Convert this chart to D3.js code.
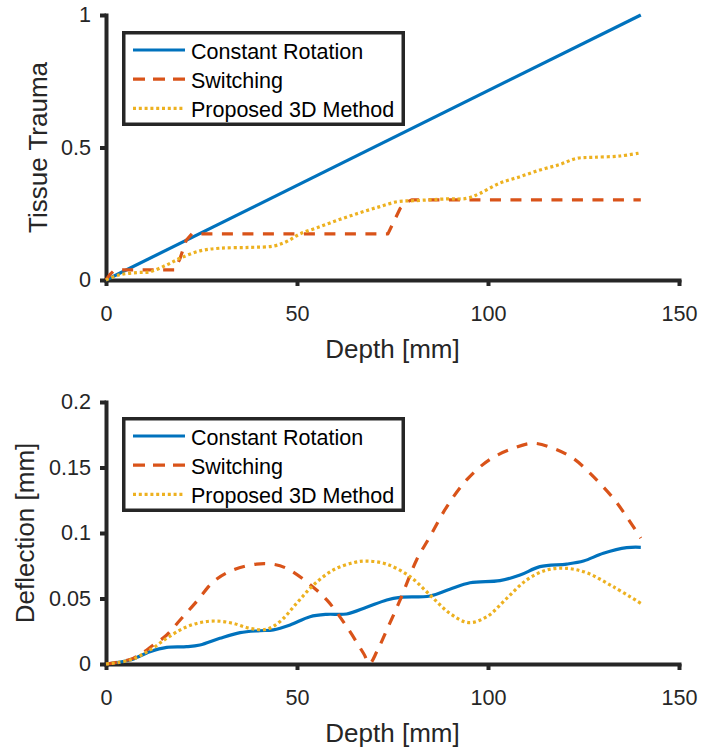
<!DOCTYPE html>
<html>
<head>
<meta charset="utf-8">
<script src="https://cdn.jsdelivr.net/npm/d3@7"></script>
<style>
  html, body { margin: 0; padding: 0; background: #fff; }
  svg { display: block; font-family: "Liberation Sans", Arial, Helvetica, sans-serif; }
</style>
</head>
<body>
<svg id="chart" width="702" height="753"></svg>
<script>
// ---- data ----------------------------------------------------------------
const seriesNames = ["Constant Rotation", "Switching", "Proposed 3D Method"];

const depthTicks = [0, 50, 100, 150];
const traumaTicks = [0, 0.5, 1];
const traumaTickLabels = ["0", "0.5", "1"];
const deflectionTicks = [0, 0.05, 0.1, 0.15, 0.2];
const deflectionTickLabels = ["0", "0.05", "0.1", "0.15", "0.2"];

// Tissue trauma vs depth
const traumaConstDepth = [0, 140];
const traumaConst = [0, 1];

const traumaSwitchDepth = [0, 1, 2, 3, 18, 19.4, 21, 22.5, 73.8, 75, 77, 79, 80, 140];
const traumaSwitch = [0, 0.02, 0.034, 0.038, 0.038, 0.082, 0.15, 0.174, 0.174, 0.21, 0.27, 0.296, 0.302, 0.302];

const traumaPropDepth = [0, 3.7, 8, 11.5, 15.9, 19.4, 24.6, 29.8, 37.7, 43.8, 47.3, 50.8, 56, 61.3,
  66.5, 71.7, 76.4, 80.4, 89.2, 94.4, 97.9, 103, 108.4, 113.6, 118.8, 123.2, 127.6, 134.6, 140];
const traumaProp = [0, 0.02, 0.028, 0.031, 0.057, 0.082, 0.11, 0.12, 0.123, 0.128, 0.145, 0.174, 0.201, 0.229,
  0.254, 0.277, 0.296, 0.299, 0.306, 0.308, 0.327, 0.365, 0.39, 0.415, 0.436, 0.459, 0.463, 0.468, 0.48];

// Deflection vs depth
const deflConstDepth = [0, 6.3, 11.5, 15.9, 21.1, 24.6, 29.8, 35.1, 40.3, 43.8, 48.2, 53.4, 57.8, 63,
  68.2, 73.5, 77, 84.8, 90, 95.3, 103.1, 108.4, 113.6, 120.6, 125, 130.2, 136.3, 140];
const deflConst = [0, 0.003, 0.0094, 0.0127, 0.0132, 0.0145, 0.0196, 0.0239, 0.0254, 0.026, 0.0298, 0.0361, 0.0379, 0.0382,
  0.0433, 0.0489, 0.0509, 0.0519, 0.057, 0.062, 0.0636, 0.0679, 0.0743, 0.0763, 0.0786, 0.0845, 0.0888, 0.0891];

const deflSwitchDepth = [0, 7.1, 12.4, 15.9, 19.4, 23.7, 28.1, 33.3, 39.4, 43.8, 47.3, 52.5, 57.8, 63,
  67.4, 69, 70.9, 73.5, 77, 81.3, 84.8, 89.2, 94.4, 100.5, 106.6, 111.9, 117.1, 122.3, 127.6, 132.8, 136.3, 140];
const deflSwitch = [0, 0.0043, 0.0145, 0.0221, 0.0336, 0.0476, 0.0628, 0.0718, 0.0763, 0.0761, 0.073, 0.0628, 0.0489, 0.0285,
  0.0082, 0.0005, 0.0094, 0.026, 0.0489, 0.0794, 0.0972, 0.12, 0.1405, 0.1562, 0.1646, 0.1685, 0.1646, 0.157, 0.143, 0.1265, 0.1124, 0.096];

const deflPropDepth = [0, 6.3, 11.5, 15.9, 20.2, 24.6, 29, 33.3, 37.7, 42, 45.5, 49.9, 54.3, 59.5, 64.7,
  68.2, 73.5, 79.6, 84.8, 90, 94.9, 99.7, 104.9, 110.1, 115.4, 120.6, 125.8, 132.8, 140];
const deflProp = [0, 0.003, 0.0107, 0.0196, 0.0272, 0.0316, 0.0328, 0.031, 0.0272, 0.0265, 0.0323, 0.0463, 0.0603, 0.0718, 0.0773,
  0.0786, 0.0762, 0.0667, 0.0527, 0.0387, 0.0316, 0.0361, 0.0501, 0.0641, 0.0718, 0.073, 0.0697, 0.059, 0.0463];

// ---- styles --------------------------------------------------------------
const colors = ["#0072BD", "#D95319", "#EDB120"];
const dashes = [null, "11,9.5", "3,2.8"];
const axisColor = "#262626";
const lineWidth = 3.2;

const svg = d3.select("#chart");
svg.append("rect").attr("width", 702).attr("height", 753).attr("fill", "#fff");

function drawPanel(cfg) {
  const W = 573;
  const g = svg.append("g").attr("transform", `translate(${cfg.left},${cfg.top})`);
  const x = d3.scaleLinear().domain([0, 150]).range([0, W]);
  const y = d3.scaleLinear().domain([0, cfg.yMax]).range([cfg.height, 0]);

  // x axis
  const xAxis = g.append("g")
    .attr("transform", `translate(0,${cfg.height})`)
    .call(d3.axisBottom(x).tickValues(depthTicks).tickFormat(d3.format("d"))
      .tickSize(6).tickSizeOuter(0).tickPadding(19.4));
  // y axis
  const yAxis = g.append("g")
    .call(d3.axisLeft(y).tickValues(cfg.yTicks).tickFormat((d, i) => cfg.yTickLabels[i])
      .tickSize(6).tickSizeOuter(0).tickPadding(9));

  [xAxis, yAxis].forEach(a => {
    a.select(".domain").attr("stroke", axisColor).attr("stroke-width", 4).attr("stroke-linecap", "square");
    a.selectAll(".tick line").attr("stroke", axisColor).attr("stroke-width", 4);
    a.selectAll(".tick text").attr("fill", axisColor).attr("font-size", 21.6)
      .attr("font-family", "'Liberation Sans', Arial, sans-serif");
  });

  // axis titles
  g.append("text")
    .attr("x", W / 2).attr("y", cfg.height + 78)
    .attr("text-anchor", "middle").attr("font-size", 26).attr("fill", axisColor)
    .text("Depth [mm]");
  g.append("text")
    .attr("transform", `translate(${cfg.yLabelX - cfg.left},${cfg.height / 2}) rotate(-90)`)
    .attr("text-anchor", "middle").attr("font-size", 26).attr("fill", axisColor)
    .text(cfg.yLabel);

  // series lines
  cfg.series.forEach((s, i) => {
    const line = d3.line()
      .x(d => x(d[0])).y(d => y(d[1]))
      .curve(s.curve);
    g.append("path")
      .datum(d3.zip(s.depth, s.values))
      .attr("fill", "none")
      .attr("stroke", colors[i])
      .attr("stroke-width", lineWidth)
      .attr("stroke-dasharray", dashes[i])
      .attr("stroke-linejoin", "round")
      .attr("d", line);
  });

  // legend
  const lg = svg.append("g").attr("transform", `translate(0,${cfg.legendTop})`);
  lg.append("rect")
    .attr("x", 123.75).attr("y", 1.75)
    .attr("width", 279.5).attr("height", 91.5)
    .attr("fill", "#fff").attr("stroke", axisColor).attr("stroke-width", 3.5);
  seriesNames.forEach((name, i) => {
    const cy = 19 + i * 29.2;
    lg.append("line")
      .attr("x1", 133).attr("x2", 185).attr("y1", cy).attr("y2", cy)
      .attr("stroke", colors[i]).attr("stroke-width", lineWidth)
      .attr("stroke-dasharray", i === 1 ? "12,8" : dashes[i]);
    lg.append("text")
      .attr("x", 191).attr("y", cy + 8.5)
      .attr("font-size", 21.5).attr("fill", "#000")
      .text(name);
  });
}

const smooth = d3.curveCatmullRom.alpha(0.5);

drawPanel({
  left: 106, top: 15, height: 265, yMax: 1,
  yTicks: traumaTicks, yTickLabels: traumaTickLabels,
  yLabel: "Tissue Trauma", yLabelX: 47,
  legendTop: 31,
  series: [
    { depth: traumaConstDepth, values: traumaConst, curve: d3.curveLinear },
    { depth: traumaSwitchDepth, values: traumaSwitch, curve: d3.curveLinear },
    { depth: traumaPropDepth, values: traumaProp, curve: smooth }
  ]
});

drawPanel({
  left: 106, top: 402, height: 262, yMax: 0.2,
  yTicks: deflectionTicks, yTickLabels: deflectionTickLabels,
  yLabel: "Deflection [mm]", yLabelX: 33.5,
  legendTop: 417,
  series: [
    { depth: deflConstDepth, values: deflConst, curve: smooth },
    { depth: deflSwitchDepth, values: deflSwitch, curve: smooth },
    { depth: deflPropDepth, values: deflProp, curve: smooth }
  ]
});
</script>
</body>
</html>
